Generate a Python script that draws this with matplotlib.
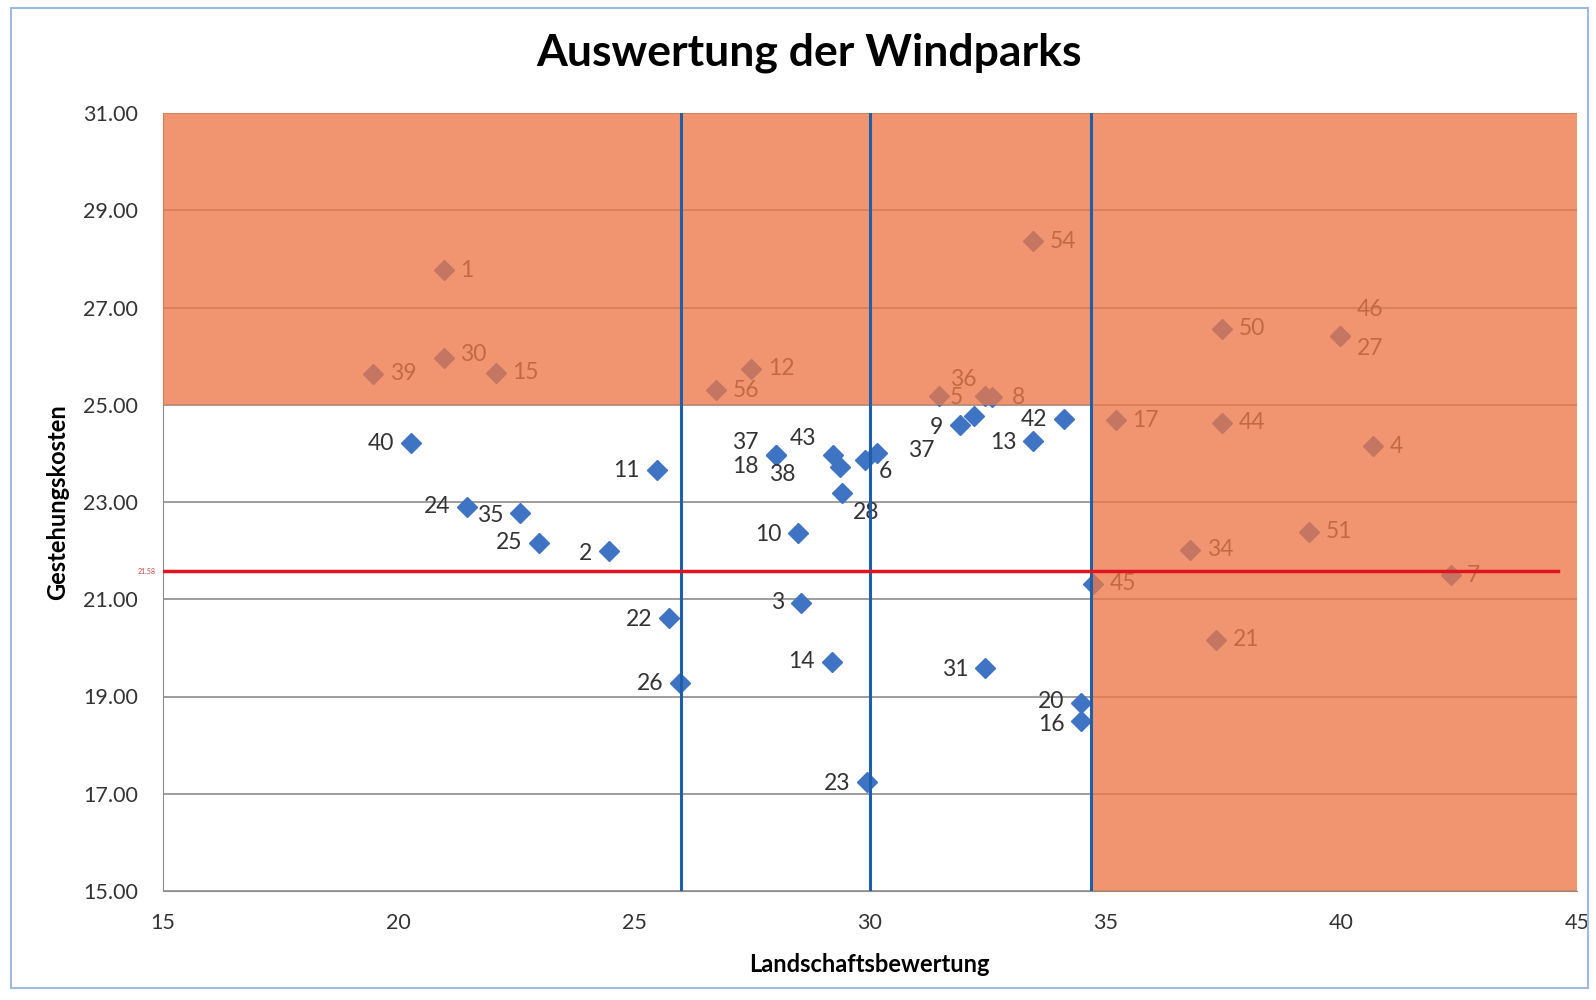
import matplotlib.pyplot as plt
from matplotlib.patches import Rectangle
from matplotlib.ticker import FormatStrFormatter

plt.rcParams['font.family'] = ['Lato', 'DejaVu Sans']

# Windparks: label, Landschaftsbewertung, Gestehungskosten
labels = ['40', '11', '24', '35', '25', '2', '22', '26', '37', '18', '43', '38',
          '28', '6', '37', '9', '', '42', '13', '10', '3', '14', '31', '20',
          '16', '23',
          '1', '39', '30', '15', '12', '56', '5', '36', '8', '54', '50', '27',
          '46', '17', '44', '4', '51', '34', '45', '7', '21']
bewertung = [20.27, 25.48, 21.46, 22.58, 22.99, 24.46, 25.73, 25.97, 28.0, 28.0,
             29.21, 29.36, 29.41, 29.9, 30.16, 31.91, 32.21, 34.11, 33.47, 28.48,
             28.54, 29.19, 32.45, 34.48, 34.48, 29.95,
             20.96, 19.47, 20.96, 22.06, 27.48, 26.73, 31.46, 32.45, 32.6, 33.47,
             37.48, 39.97, 39.97, 35.22, 37.48, 40.68, 39.32, 36.79, 34.74, 42.32,
             37.35]
kosten = [24.21, 23.65, 22.9, 22.77, 22.16, 21.99, 20.61, 19.27, 23.96, 23.96,
          23.96, 23.71, 23.19, 23.86, 24.0, 24.59, 24.76, 24.7, 24.26, 22.37,
          20.93, 19.71, 19.59, 18.87, 18.5, 17.24,
          27.77, 25.64, 25.97, 25.66, 25.74, 25.3, 25.18, 25.18, 25.15, 28.36,
          26.56, 26.41, 26.41, 24.68, 24.63, 24.15, 22.39, 22.02, 21.32, 21.49,
          20.17]

# label offsets in points (dx, dy)
offsets = [(-12, 0), (-12, 0), (-12, 0), (-12, -2), (-12, 0), (-12, -2), (-12, -1),
           (-12, 0), (-12, 9), (-12, -8), (-12, 12), (-32, -5), (8, -14),
           (10, -8), (22, 2), (-12, -2), (-30, 0), (-12, 0), (-12, -1), (-12, -1),
           (-12, 0), (-12, 0), (-12, -1), (-12, 1), (-12, -3), (-12, -1),
           (12, 0), (12, 0), (12, 2), (12, 0), (12, 0), (12, 0), (8, -1), (-6, 12),
           (14, 0), (12, 0), (12, 0), (12, -9), (12, 19), (12, 0), (12, 0),
           (12, 0), (12, 0), (12, 0), (12, 0), (12, 0), (12, 0)]

grenzen_x = [26, 30, 34.7]
mittel_kosten = 21.58

fig = plt.figure(figsize=(15.96, 10), dpi=100)
ax = fig.add_axes([0.102, 0.109, 0.886, 0.778])

ax.set_xlim(15, 45)
ax.set_ylim(15, 31)
ax.set_xticks(range(15, 46, 5))
ax.set_yticks(range(15, 32, 2))
ax.yaxis.set_major_formatter(FormatStrFormatter('%.2f'))
ax.yaxis.grid(True, color='#8c8c8c', lw=1.2, zorder=0)
ax.set_axisbelow(True)
for s in ['top', 'right']:
    ax.spines[s].set_visible(False)
for s in ['left', 'bottom']:
    ax.spines[s].set_color('#8c8c8c')
ax.tick_params(length=0, labelsize=15.5, colors='#333333')
ax.tick_params(axis='y', pad=18)
ax.tick_params(axis='x', pad=16)

ax.plot(bewertung, kosten, 'D', color='#3f73c4', ms=10, mec='#3f73c4', zorder=2)
for lab, x, y, off in zip(labels, bewertung, kosten, offsets):
    ax.annotate(lab, (x, y), xytext=off, textcoords='offset points',
                ha='right' if off[0] < 0 else 'left', va='center',
                fontsize=16.5, color='#333333', zorder=2)

# orange overlay
ax.add_patch(Rectangle((15, 25), 30, 6, color='#ec7848', alpha=0.78, lw=0, zorder=3))
ax.add_patch(Rectangle((grenzen_x[2], 15), 45 - grenzen_x[2], 10, color='#ec7848',
                       alpha=0.78, lw=0, zorder=3))

for gx in grenzen_x:
    ax.axvline(gx, color='#1f5ea8', lw=2.2, zorder=4)
ax.plot([15, 44.6], [mittel_kosten, mittel_kosten], color='#e0141e', lw=2.5, zorder=4)
ax.text(14.85, mittel_kosten, '%.2f' % mittel_kosten, color='#d04040', fontsize=5,
        ha='right', va='center')

fig.text(0.507, 0.947, 'Auswertung der Windparks', fontsize=32, fontweight='bold',
         ha='center', va='center')
ax.set_xlabel('Landschaftsbewertung', fontsize=17, fontweight='bold', labelpad=14)
ax.set_ylabel('Gestehungskosten', fontsize=17, fontweight='bold', labelpad=10)

fig.add_artist(Rectangle((0.007, 0.012), 0.988, 0.98, transform=fig.transFigure,
                         fill=False, edgecolor='#9dbbe0', lw=1.5))

fig.savefig('out.png', dpi=100)
